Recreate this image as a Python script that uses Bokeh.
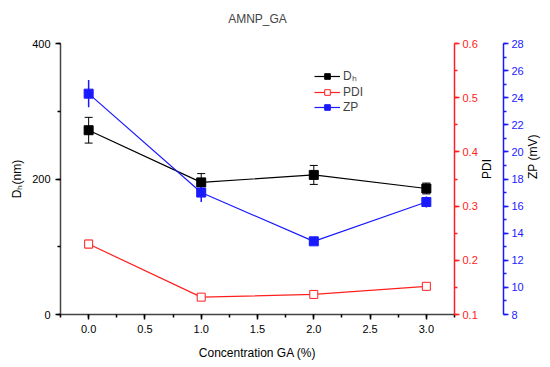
import math
from bokeh.plotting import figure
from bokeh.models import Range1d, LinearAxis, Whisker, ColumnDataSource, Legend, LegendItem, NumeralTickFormatter, SingleIntervalTicker
from bokeh.embed import file_html
from bokeh.resources import INLINE

conc = [0.0, 1.0, 2.0, 3.0]
dh = [272, 195, 206, 186]
dh_err = [19, 13, 14, 8]
pdi = [0.230, 0.132, 0.137, 0.152]
pdi_err = [0.007, 0.004, 0.003, 0.004]
zp = [24.3, 17.0, 13.4, 16.3]
zp_err = [1.0, 0.7, 0.2, 0.4]

FONT = "Liberation Sans"
RED = "#ff2020"
BLUE = "#1a1aff"

p = figure(frame_width=394, frame_height=271, output_backend="svg", toolbar_location=None,
           x_range=Range1d(-0.25, 3.25), y_range=Range1d(0, 400),
           min_border_left=60, min_border_top=43, min_border_bottom=50, min_border_right=80,
           title="AMNP_GA\n")
p.outline_line_color = None
p.xgrid.visible = False
p.ygrid.visible = False
p.title.align = "center"
p.title.offset = 0
p.title.text_font = FONT
p.title.text_font_size = "12px"
p.title.text_line_height = 0.9
p.title.text_font_style = "normal"

p.extra_y_ranges = {"pdi": Range1d(0.1, 0.6001), "zp": Range1d(8, 28.001)}

def style_axis(ax, color, label):
    ax.axis_label = label
    ax.axis_label_text_font = FONT
    ax.axis_label_text_font_size = "12px"
    ax.axis_label_text_font_style = "normal"
    ax.axis_label_text_color = "black"
    ax.major_label_text_font = FONT
    ax.major_label_text_font_size = "11px"
    ax.major_label_text_color = color
    ax.axis_line_color = color
    ax.major_tick_line_color = color
    ax.minor_tick_line_color = color
    ax.major_tick_out = 5
    ax.major_tick_in = 0
    ax.minor_tick_out = 3
    ax.minor_tick_in = 0
    ax.axis_line_width = 1.5
    ax.major_tick_line_width = 1.5
    ax.minor_tick_line_width = 1.5

style_axis(p.xaxis[0], "black", "Concentration GA (%)")
p.xaxis[0].axis_line_color = "#444444"
p.xaxis[0].axis_label_standoff = 10
p.xaxis[0].ticker = SingleIntervalTicker(interval=0.5, num_minor_ticks=2)
p.xaxis[0].formatter = NumeralTickFormatter(format="0.0")

style_axis(p.yaxis[0], "black", "Dₕ(nm)")
p.yaxis[0].axis_line_color = "#444444"
p.yaxis[0].ticker = SingleIntervalTicker(interval=200, num_minor_ticks=2)

ax_pdi = LinearAxis(y_range_name="pdi")
style_axis(ax_pdi, RED, "PDI")
ax_pdi.axis_label_standoff = 6
ax_pdi.major_label_standoff = 3
ax_pdi.axis_label_orientation = math.pi / 2
ax_pdi.ticker = SingleIntervalTicker(interval=0.1, num_minor_ticks=2)
ax_pdi.formatter = NumeralTickFormatter(format="0.0")
p.add_layout(ax_pdi, "right")

ax_zp = LinearAxis(y_range_name="zp")
style_axis(ax_zp, BLUE, "ZP (mV)")
ax_zp.axis_label_standoff = 6
ax_zp.major_label_standoff = 3
ax_zp.axis_label_orientation = math.pi / 2
ax_zp.ticker = SingleIntervalTicker(interval=2, num_minor_ticks=2)
p.add_layout(ax_zp, "right")

src = ColumnDataSource(dict(
    x=conc,
    dh=dh, dh_lo=[a - b for a, b in zip(dh, dh_err)], dh_hi=[a + b for a, b in zip(dh, dh_err)],
    pdi=pdi, pdi_lo=[a - b for a, b in zip(pdi, pdi_err)], pdi_hi=[a + b for a, b in zip(pdi, pdi_err)],
    zp=zp, zp_lo=[a - b for a, b in zip(zp, zp_err)], zp_hi=[a + b for a, b in zip(zp, zp_err)],
))

w1 = Whisker(source=src, base="x", lower="dh_lo", upper="dh_hi", line_color="black", line_width=1)
w1.upper_head.size = 8; w1.lower_head.size = 8
w1.upper_head.line_color = "black"; w1.lower_head.line_color = "black"
p.add_layout(w1)
w2 = Whisker(source=src, base="x", lower="pdi_lo", upper="pdi_hi", line_color=RED, y_range_name="pdi")
w2.upper_head.size = 8; w2.lower_head.size = 8
w2.upper_head.line_color = RED; w2.lower_head.line_color = RED
p.add_layout(w2)
w3 = Whisker(source=src, base="x", lower="zp_lo", upper="zp_hi", line_color=BLUE, line_width=1.5, y_range_name="zp")
w3.upper_head.size = 0; w3.lower_head.size = 0
p.add_layout(w3)

l1 = p.line("x", "dh", source=src, line_color="black", line_width=1.2)
m1 = p.scatter("x", "dh", source=src, marker="square", size=9, fill_color="black", line_color="black")
l2 = p.line("x", "pdi", source=src, line_color=RED, line_width=1.2, y_range_name="pdi")
m2 = p.scatter("x", "pdi", source=src, marker="square", size=8, fill_color="white", line_color=RED, y_range_name="pdi")
l3 = p.line("x", "zp", source=src, line_color=BLUE, line_width=1.2, y_range_name="zp")
m3 = p.scatter("x", "zp", source=src, marker="square", size=9, fill_color=BLUE, line_color=BLUE, y_range_name="zp")

legend = Legend(items=[LegendItem(label="Dₕ", renderers=[l1, m1]),
                       LegendItem(label="PDI", renderers=[l2, m2]),
                       LegendItem(label="ZP", renderers=[l3, m3])],
                location=(254, 200), border_line_color=None, background_fill_alpha=0,
                label_text_font=FONT, label_text_font_size="12px", spacing=1,
                label_height=14, glyph_height=14,
                glyph_width=26, label_standoff=3, padding=4)
p.add_layout(legend)

open("out.html", "w").write(file_html(p, INLINE))
